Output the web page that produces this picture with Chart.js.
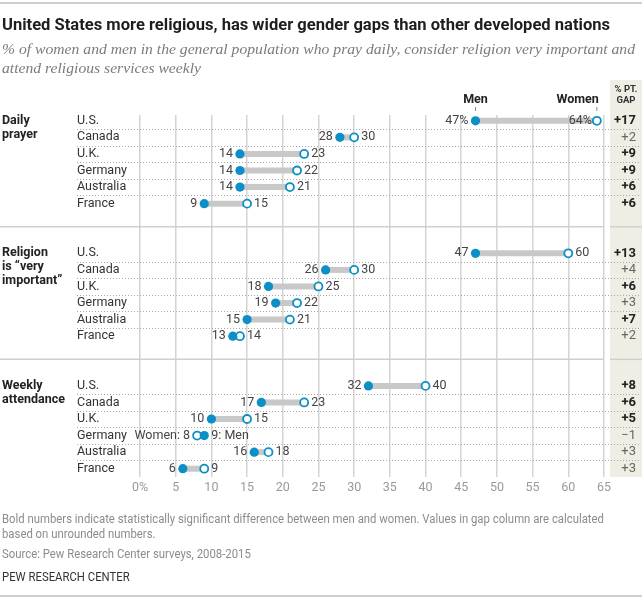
<!DOCTYPE html>
<html>
<head>
<meta charset="utf-8">
<script src="https://cdn.jsdelivr.net/npm/chart.js"></script>
<style>
  body { margin: 0; background: #fff; }
  #wrap { position: relative; width: 642px; height: 598px; overflow: hidden; }
  #dumbbell-chart { position: absolute; left: 0; top: 0; }
  .line { position: absolute; left: 2px; white-space: nowrap; transform-origin: 0 50%; }
  .title { font: bold 16px Roboto, sans-serif; color: #1e1e1e; top: 15px; line-height: 20px; }
  .sub { font: italic 15px "Liberation Serif", serif; color: #7b7b7b; line-height: 19px; }
  .note { font: 12px Roboto, sans-serif; color: #8c8c8c; line-height: 16px; }
  .rule { position: absolute; left: 0; width: 642px; height: 1.5px; background: #cfcfcf; }
</style>
</head>
<body>
<div id="wrap">
  <canvas id="dumbbell-chart" width="642" height="598"></canvas>
  <div class="rule" style="top:2px"></div>
  <span class="line title" id="t1">United States more religious, has wider gender gaps than other developed nations</span>
  <span class="line sub" id="s1" style="top:40px">% of women and men in the general population who pray daily, consider religion very important and</span>
  <span class="line sub" id="s2" style="top:59px">attend religious services weekly</span>
  <span class="line note" id="n1" style="top:511px">Bold numbers indicate statistically significant difference between men and women. Values in gap column are calculated</span>
  <span class="line note" id="n2" style="top:526px">based on unrounded numbers.</span>
  <span class="line note" id="n3" style="top:546px">Source: Pew Research Center surveys, 2008-2015</span>
  <span class="line note" id="n4" style="top:569px; color:#333">PEW RESEARCH CENTER</span>
  <div class="rule" style="top:595px"></div>
</div>
<script>
const countries = ["U.S.", "Canada", "U.K.", "Germany", "Australia", "France"];
const sectionLabels = [["Daily", "prayer"], ["Religion", "is \u201cvery", "important\u201d"], ["Weekly", "attendance"]];

const menPray = [47, 28, 14, 14, 14, 9];
const womenPray = [64, 30, 23, 22, 21, 15];
const menImportant = [47, 26, 18, 19, 15, 13];
const womenImportant = [60, 30, 25, 22, 21, 14];
const menWeekly = [32, 17, 10, 9, 16, 6];
const womenWeekly = [40, 23, 15, 8, 18, 9];

const gapPray = [17, 2, 9, 9, 6, 6];
const gapImportant = [13, 4, 6, 3, 7, 2];
const gapWeekly = [8, 6, 5, -1, 3, 3];
const sigPray = [true, false, true, true, true, true];
const sigImportant = [true, false, true, false, true, false];
const sigWeekly = [true, true, true, false, false, false];

const xTickLabels = ["0%", "5", "10", "15", "20", "25", "30", "35", "40", "45", "50", "55", "60", "65"];

// fit the html text lines to the widths in the original
function fit(ids, width) {
  const k = width / document.getElementById(ids[0]).getBoundingClientRect().width;
  ids.forEach(id => { document.getElementById(id).style.transform = "scaleX(" + k + ")"; });
}
fit(["t1"], 608);
fit(["s1", "s2"], 633);
fit(["n1", "n2", "n3", "n4"], 602);

const BLUE = "#0b8fc6";
const men = [menPray, menImportant, menWeekly];
const women = [womenPray, womenImportant, womenWeekly];
const gaps = [gapPray, gapImportant, gapWeekly];
const sigs = [sigPray, sigImportant, sigWeekly];

// one row per country and section, sections separated by two empty slots
const rows = [];
men.forEach((list, s) => {
  list.forEach((m, i) => {
    rows.push({ s: s, i: i, y: s * 8 + i, men: m, women: women[s][i], gap: gaps[s][i], sig: sigs[s][i] });
  });
});

const connectors = rows.map(r => ({
  type: "scatter",
  showLine: true,
  data: [{ x: r.men, y: r.y }, { x: r.women, y: r.y }],
  borderColor: "#c8c8c8",
  borderWidth: 6,
  borderCapStyle: "butt",
  pointRadius: 0,
  order: 2
}));

const FONT = "Roboto, sans-serif";

const overlay = {
  id: "overlay",
  beforeDraw(chart) {
    const c = chart.ctx;
    c.save();
    c.fillStyle = "#efeee4";
    c.fillRect(610, 80, 32, chart.chartArea.bottom - 80);
    c.restore();
  },
  beforeDatasetsDraw(chart) {
    const c = chart.ctx, y = chart.scales.y, a = chart.chartArea;
    c.save();
    // dotted row lines
    c.strokeStyle = "#a8a8a8";
    c.lineWidth = 1;
    c.setLineDash([1, 2]);
    rows.forEach(r => {
      if (r.i === 5) return;
      const py = Math.round(y.getPixelForValue(r.y + 0.5)) + 0.5;
      c.beginPath(); c.moveTo(77, py); c.lineTo(640, py); c.stroke();
    });
    // solid section lines
    c.setLineDash([]);
    c.strokeStyle = "#cfcfcf";
    c.lineWidth = 1.5;
    [1, 2].forEach(s => {
      const py = y.getPixelForValue(s * 8 - 1.6);
      c.beginPath(); c.moveTo(0, py); c.lineTo(a.right, py); c.stroke();
      c.beginPath(); c.moveTo(610, py); c.lineTo(642, py); c.stroke();
    });
    c.restore();
  },
  afterDatasetsDraw(chart) {
    const c = chart.ctx, x = chart.scales.x, y = chart.scales.y;
    c.save();
    c.textBaseline = "middle";

    // country and section labels
    c.fillStyle = "#333";
    c.font = "12.5px " + FONT;
    c.textAlign = "left";
    rows.forEach(r => c.fillText(countries[r.i], 77, y.getPixelForValue(r.y)));
    c.font = "bold 12.5px " + FONT;
    c.fillStyle = "#222";
    sectionLabels.forEach((lines, s) => {
      const top = y.getPixelForValue(s * 8);
      lines.forEach((t, k) => c.fillText(t, 2, top + k * 14));
    });

    // value labels
    c.font = "12.5px " + FONT;
    c.fillStyle = "#444";
    rows.forEach((r, n) => {
      const py = y.getPixelForValue(r.y);
      const pm = x.getPixelForValue(r.men), pw = x.getPixelForValue(r.women);
      if (n === 0) {
        c.textAlign = "right";
        c.fillText(r.men + "%", pm - 7, py);
        c.fillText(r.women + "%", pw - 5, py);
      } else if (r.women < r.men) {
        c.textAlign = "right";
        c.fillText("Women: " + r.women, pw - 7, py);
        c.textAlign = "left";
        c.fillText(r.men + ": Men", pm + 7, py);
      } else {
        c.textAlign = "right";
        c.fillText(r.men, pm - 7, py);
        c.textAlign = "left";
        c.fillText(r.women, pw + 7, py);
      }
    });

    // Men / Women key above the first row
    const first = rows[0];
    const km = x.getPixelForValue(first.men), kw = x.getPixelForValue(first.women);
    c.font = "bold 12.5px " + FONT;
    c.fillStyle = "#222";
    c.textAlign = "center";
    c.fillText("Men", km, 100);
    c.textAlign = "right";
    c.fillText("Women", kw + 2, 100);
    c.strokeStyle = "#888";
    c.lineWidth = 1;
    [km, kw].forEach(px => { c.beginPath(); c.moveTo(px, 107); c.lineTo(px, 111); c.stroke(); });

    // gap column
    c.textAlign = "center";
    c.font = "bold 9.5px " + FONT;
    c.fillStyle = "#333";
    c.fillText("% PT.", 626, 90);
    c.fillText("GAP", 626, 101);
    c.textAlign = "right";
    rows.forEach(r => {
      c.font = (r.sig ? "bold 13px " : "13px ") + FONT;
      c.fillStyle = r.sig ? "#222" : "#666";
      const t = (r.gap < 0 ? "\u2212" : "+") + Math.abs(r.gap);
      c.fillText(t, 636, y.getPixelForValue(r.y));
    });
    c.restore();
  }
};

new Chart(document.getElementById("dumbbell-chart"), {
  type: "scatter",
  data: {
    datasets: [
      {
        label: "Men",
        data: rows.map(r => ({ x: r.men, y: r.y })),
        backgroundColor: BLUE,
        borderWidth: 0,
        pointRadius: 4.6,
        order: 0
      },
      {
        label: "Women",
        data: rows.map(r => ({ x: r.women, y: r.y })),
        backgroundColor: "#fff",
        borderColor: BLUE,
        borderWidth: 1.8,
        pointRadius: 4,
        order: 1
      },
      ...connectors
    ]
  },
  options: {
    responsive: false,
    animation: false,
    devicePixelRatio: 1,
    layout: { padding: { left: 140, right: 38, top: 115, bottom: 101 } },
    plugins: { legend: { display: false }, tooltip: { enabled: false } },
    scales: {
      x: {
        type: "linear",
        min: 0,
        max: 65,
        ticks: {
          stepSize: 5,
          autoSkip: false,
          maxRotation: 0,
          padding: 3,
          color: "#9a9a9a",
          font: { family: "Roboto", size: 12.5 },
          callback: (v, i) => xTickLabels[i]
        },
        grid: { color: "#d4d4d4", lineWidth: 1.5, drawTicks: false },
        border: { display: false },
        afterFit: s => { s.height = 20; }
      },
      y: { type: "linear", display: false, reverse: true, min: -0.35, max: 21.5 }
    }
  },
  plugins: [overlay]
});
</script>
</body>
</html>
